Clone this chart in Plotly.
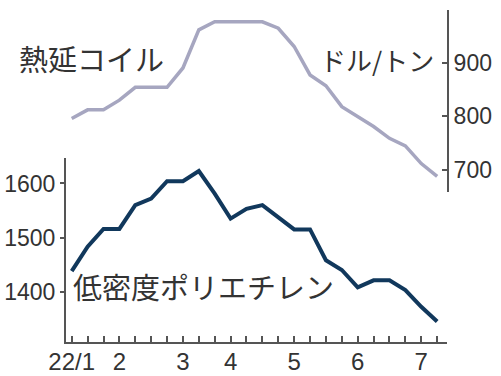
import plotly.graph_objects as go

# ---- data ----
weeks = list(range(24))
tick_labels = ["22/1", "", "", "2", "", "", "", "3", "", "", "4", "", "", "", "5", "", "", "", "6", "", "", "", "7", ""]
hot_coil = [796, 812, 812, 830, 854, 854, 854, 890, 961, 976, 976, 976,
            976, 964, 930, 877, 857, 818, 799, 781, 759, 745, 712, 688]
ldpe = [1438, 1483, 1516, 1516, 1560, 1572, 1604, 1604, 1623, 1581, 1535, 1553,
        1560, 1538, 1515, 1515, 1458, 1440, 1408, 1421, 1421, 1403, 1372, 1345]
left_ticks = [1400, 1500, 1600]
right_ticks = [700, 800, 900]

W, H = 501, 376
ML, MR, MT, MB = 66, 54, 10, 34
PW, PH = W - ML - MR, H - MT - MB

def px_x(px):
    return (px - ML) / PW

def px_y(py):
    return (H - MB - py) / PH

AX = "#555555"
TXT = "#333333"
NUM_FONT = "Liberation Sans"
JP_FONT = "Noto Sans CJK JP"

fig = go.Figure()
fig.add_trace(go.Scatter(x=weeks, y=hot_coil, mode="lines", yaxis="y2",
                         line=dict(color="#a6a6c0", width=3.5), hoverinfo="skip"))
fig.add_trace(go.Scatter(x=weeks, y=ldpe, mode="lines", yaxis="y",
                         line=dict(color="#11385c", width=4), hoverinfo="skip"))

fig.update_layout(
    width=W, height=H,
    margin=dict(l=ML, r=MR, t=MT, b=MB, autoexpand=False),
    paper_bgcolor="white", plot_bgcolor="rgba(0,0,0,0)",
    showlegend=False,
    xaxis=dict(range=[-0.36, 23.62], tickmode="array", tickvals=weeks, ticktext=tick_labels,
               ticks="inside", ticklen=6, tickwidth=1.5, tickcolor=AX, automargin=False,
               ticklabelstandoff=-3,
               showline=True, linecolor=AX, linewidth=2, showgrid=False, zeroline=False,
               tickfont=dict(family=NUM_FONT, size=24, color=TXT), anchor="y"),
    yaxis=dict(range=[1307, 1647], domain=[0, px_y(158)], tickmode="array", tickvals=left_ticks,
               ticks="outside", ticklen=4, tickwidth=1.5, tickcolor=AX, automargin=False,
               showline=True, linecolor=AX, linewidth=2, showgrid=False, zeroline=False,
               tickfont=dict(family=NUM_FONT, size=23, color=TXT), anchor="x"),
    yaxis2=dict(range=[659, 998], domain=[px_y(192), 1], tickmode="array", tickvals=right_ticks,
                side="right", ticks="inside", ticklen=5, tickwidth=1.5, tickcolor=AX, automargin=False,
                showline=True, linecolor=AX, linewidth=2, showgrid=False, zeroline=False,
                tickfont=dict(family=NUM_FONT, size=23, color=TXT), anchor="x"),
    annotations=[
        dict(text="熱延コイル", xref="paper", yref="paper", x=px_x(17), y=px_y(58),
             xanchor="left", yanchor="middle", showarrow=False,
             font=dict(family=JP_FONT, size=29, color=TXT)),
        dict(text="ドル/トン", xref="paper", yref="paper", x=px_x(436), y=px_y(60),
             xanchor="right", yanchor="middle", showarrow=False,
             font=dict(family=JP_FONT, size=26, color=TXT)),
        dict(text="低密度ポリエチレン", xref="paper", yref="paper", x=px_x(71), y=px_y(286),
             xanchor="left", yanchor="middle", showarrow=False,
             font=dict(family=JP_FONT, size=29, color=TXT)),
    ],
)

fig.write_html("out.html")
